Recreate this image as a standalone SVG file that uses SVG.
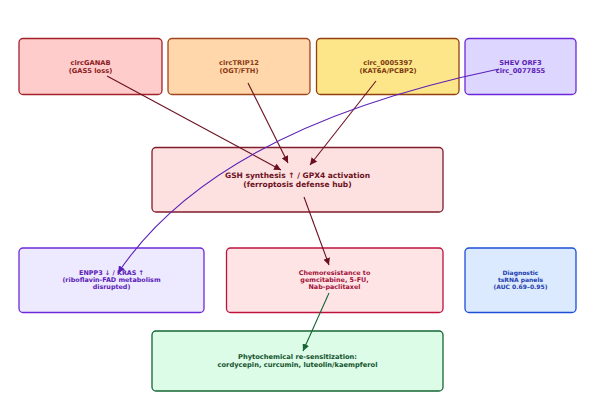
<svg xmlns="http://www.w3.org/2000/svg" width="595" height="404" viewBox="0 0 595 404">
<style>
text{font-family:"DejaVu Sans","Liberation Sans",sans-serif;font-weight:bold;text-anchor:middle}
.t7{font-size:7.5px}.t6{font-size:6.7px}.t5{font-size:6.4px}.t4{font-size:6px}
rect{stroke-width:1.3}
</style>
<defs>
<marker id="am" viewBox="0 0 10 10" refX="10" refY="5" markerWidth="7" markerHeight="7" markerUnits="userSpaceOnUse" orient="auto"><path d="M0,0L10,5L0,10z" fill="#6b1020"/></marker>
<marker id="ap" viewBox="0 0 10 10" refX="10" refY="5" markerWidth="7" markerHeight="7" markerUnits="userSpaceOnUse" orient="auto"><path d="M0,0L10,5L0,10z" fill="#5b21b6"/></marker>
<marker id="ag" viewBox="0 0 10 10" refX="10" refY="5" markerWidth="7" markerHeight="7" markerUnits="userSpaceOnUse" orient="auto"><path d="M0,0L10,5L0,10z" fill="#166534"/></marker>
</defs>
<rect width="595" height="404" fill="#fff" stroke="none"/>
<g id="circGANAB"><rect x="19" y="38.5" width="143" height="56" rx="4" fill="#ffcccc" stroke="#a3232b"/><text class="t6" x="90.5" y="65" fill="#8b1a1a">circGANAB</text><text class="t6" x="90.5" y="72.5" fill="#8b1a1a">(GAS5 loss)</text></g>
<g id="circTRIP12"><rect x="168" y="38.5" width="142" height="56" rx="4" fill="#ffd7aa" stroke="#a0461e"/><text class="t6" x="239" y="65" fill="#8a3a12">circTRIP12</text><text class="t6" x="239" y="72.5" fill="#8a3a12">(OGT/FTH)</text></g>
<g id="circ0005397"><rect x="316.5" y="38.5" width="142.5" height="56" rx="4" fill="#fde68a" stroke="#92400e"/><text class="t6" x="388" y="65" fill="#7c3a0e">circ_0005397</text><text class="t6" x="388" y="72.5" fill="#7c3a0e">(KAT6A/PCBP2)</text></g>
<g id="shev"><rect x="465" y="38.5" width="111" height="56" rx="4" fill="#ddd6fe" stroke="#6d28d9"/><text class="t6" x="520.5" y="65" fill="#5b21b6">SHEV ORF3</text><text class="t6" x="520.5" y="72.5" fill="#5b21b6">circ_0077855</text></g>
<g id="hub"><rect x="152" y="147.5" width="291" height="64.5" rx="4" fill="#fde0e0" stroke="#7f1d2d"/><text class="t7" x="297.5" y="177.5" fill="#6b1020">GSH synthesis ↑ / GPX4 activation</text><text class="t7" x="297.5" y="186.5" fill="#6b1020">(ferroptosis defense hub)</text></g>
<g id="enpp3"><rect x="19" y="248" width="185" height="64.5" rx="4" fill="#ede9fe" stroke="#6d28d9"/><text class="t5" x="111.5" y="274.5" fill="#5b21b6">ENPP3 ↓ / KRAS ↑</text><text class="t5" x="111.5" y="281.5" fill="#5b21b6">(riboflavin-FAD metabolism</text><text class="t5" x="111.5" y="288.5" fill="#5b21b6">disrupted)</text></g>
<g id="chemo"><rect x="226.5" y="248" width="216.5" height="64.5" rx="4" fill="#ffe4e6" stroke="#be123c"/><text class="t5" x="334.5" y="274.5" fill="#9f1239">Chemoresistance to</text><text class="t5" x="334.5" y="281.5" fill="#9f1239">gemcitabine, 5-FU,</text><text class="t5" x="334.5" y="288.5" fill="#9f1239">Nab-paclitaxel</text></g>
<g id="diag"><rect x="465" y="248" width="111" height="64.5" rx="4" fill="#dbeafe" stroke="#1d4ed8"/><text class="t4" x="520.5" y="274.5" fill="#1e40af">Diagnostic</text><text class="t4" x="520.5" y="281.5" fill="#1e40af">tsRNA panels</text><text class="t4" x="520.5" y="288.5" fill="#1e40af">(AUC 0.69–0.95)</text></g>
<g id="phyto"><rect x="152" y="331" width="291" height="60" rx="4" fill="#dcfce7" stroke="#166534"/><text class="t6" x="297.5" y="358.5" fill="#14532d">Phytochemical re-sensitization:</text><text class="t6" x="297.5" y="366.5" fill="#14532d">cordycepin, curcumin, luteolin/kaempferol</text></g>
<g id="connectors" fill="none" stroke-width="1.1">
<path d="M107,76L281,170" stroke="#6b1020" marker-end="url(#am)"/>
<path d="M248,83L288,163" stroke="#6b1020" marker-end="url(#am)"/>
<path d="M376,81L310,165" stroke="#6b1020" marker-end="url(#am)"/>
<path d="M499,69Q215,128 118,273" stroke="#5b21b6" marker-end="url(#ap)"/>
<path d="M304,197L329,265" stroke="#6b1020" marker-end="url(#am)"/>
<path d="M329,293L303,351" stroke="#166534" marker-end="url(#ag)"/>
</g>
</svg>
